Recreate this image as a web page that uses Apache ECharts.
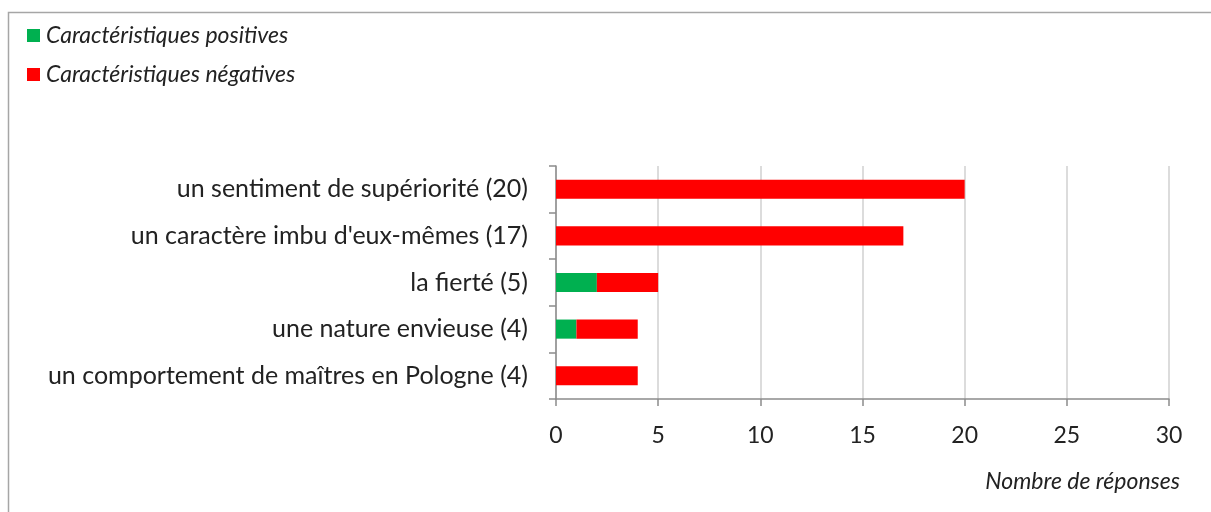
<!DOCTYPE html>
<html>
<head>
<meta charset="utf-8">
<script src="https://cdn.jsdelivr.net/npm/echarts@6/dist/echarts.min.js"></script>
<style>
  html, body { margin: 0; padding: 0; background: #fff; }
  #chart { width: 1211px; height: 512px; }
</style>
</head>
<body>
<div id="chart"></div>
<script>
// Categories listed top to bottom
const categories = [
  "un sentiment de supériorité (20)",
  "un caractère imbu d'eux-mêmes (17)",
  "la fierté (5)",
  "une nature envieuse (4)",
  "un comportement de maîtres en Pologne (4)"
];
const positives = [0, 0, 2, 1, 0];
const negatives = [20, 17, 3, 3, 4];
const xTicks = [0, 5, 10, 15, 20, 25, 30];

const FONT = "Lato, 'Open Sans', sans-serif";
const chart = echarts.init(document.getElementById('chart'), null, { renderer: 'canvas' });

chart.setOption({
  animation: false,
  textStyle: { fontFamily: FONT },
  graphic: [
    {
      type: 'rect',
      shape: { x: 8.5, y: 12.5, width: 1400, height: 700 },
      style: { fill: null, stroke: '#a6a6a6', lineWidth: 1.5 },
      silent: true
    },
    {
      type: 'text',
      right: 31,
      top: 470,
      style: {
        text: 'Nombre de réponses',
        font: 'italic 23px ' + FONT,
        fill: '#222'
      }
    }
  ],
  legend: {
    orient: 'vertical',
    left: 22,
    top: 19,
    itemGap: 16,
    itemWidth: 13,
    itemHeight: 13,
    icon: 'rect',
    textStyle: { fontStyle: 'italic', fontSize: 23, color: '#222', fontFamily: FONT, padding: [0, 0, 0, 1] },
    data: ['Caractéristiques positives', 'Caractéristiques négatives']
  },
  grid: { left: 556, right: 42, top: 166, bottom: 113, containLabel: false },
  xAxis: {
    type: 'value',
    min: 0,
    max: 30,
    interval: 5,
    axisLine: { show: true, lineStyle: { color: '#8c8c8c', width: 1.5 } },
    axisTick: { show: true, length: 7, lineStyle: { color: '#8c8c8c', width: 1.5 } },
    axisLabel: {
      fontSize: 23, color: '#222', margin: 25, fontFamily: FONT,
      formatter: v => xTicks.includes(v) ? String(v) : ''
    },
    splitLine: { show: true, lineStyle: { color: '#d0d0d0', width: 1.5 } }
  },
  yAxis: {
    type: 'category',
    inverse: true,
    data: categories,
    axisLine: { show: true, lineStyle: { color: '#8c8c8c', width: 1.5 } },
    axisTick: { show: true, length: 7, lineStyle: { color: '#8c8c8c', width: 1.5 } },
    axisLabel: { fontSize: 25, color: '#222', margin: 28, fontFamily: FONT }
  },
  series: [
    {
      name: 'Caractéristiques positives',
      type: 'bar',
      stack: 'total',
      barWidth: '41%',
      itemStyle: { color: '#00b050' },
      data: positives
    },
    {
      name: 'Caractéristiques négatives',
      type: 'bar',
      stack: 'total',
      barWidth: '41%',
      itemStyle: { color: '#ff0000' },
      data: negatives
    }
  ]
});
</script>
</body>
</html>
